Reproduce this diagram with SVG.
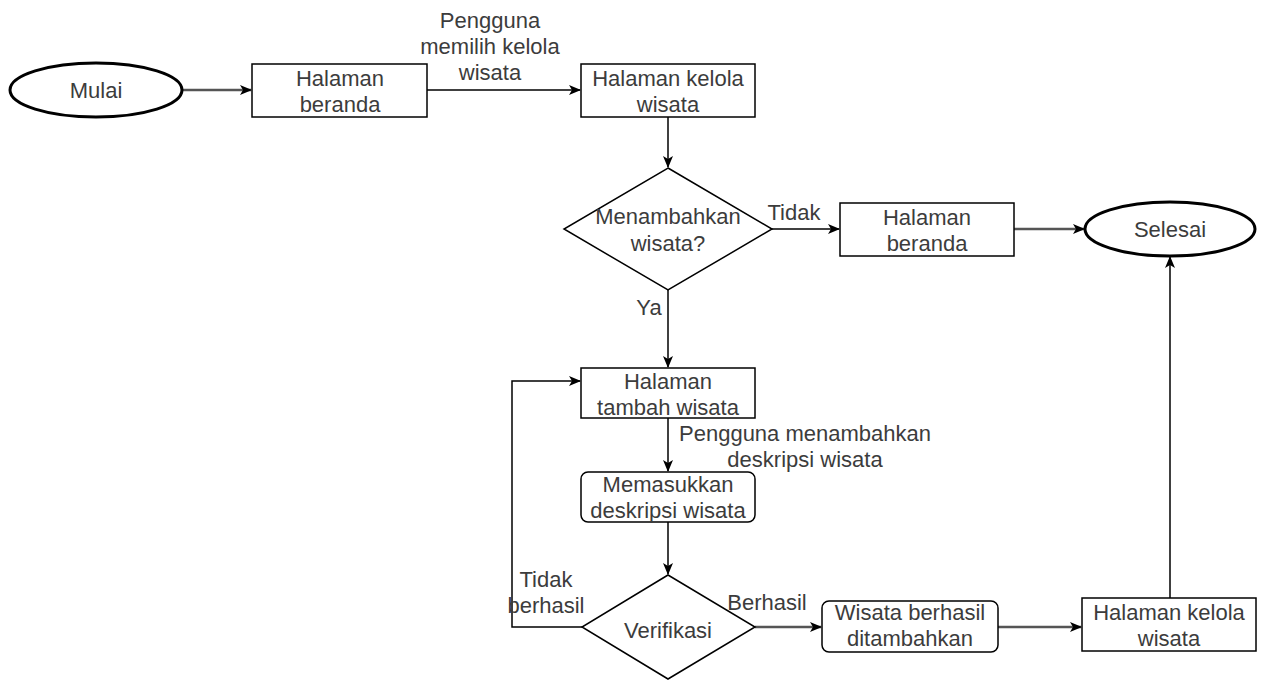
<svg xmlns="http://www.w3.org/2000/svg" width="1262" height="680" viewBox="0 0 1262 680">
  <style>
    .box { fill: #ffffff; stroke: #000000; stroke-width: 1.5; }
    .term { fill: #ffffff; stroke: #000000; stroke-width: 3; }
    .lbl { font-family: "Liberation Sans", Arial, sans-serif; font-size: 22px; fill: #3c3c3c; text-anchor: middle; }
    .edge { fill: none; stroke: #000000; stroke-width: 1.5; }
    .edge2 { fill: none; stroke: #555555; stroke-width: 2.5; }
  </style>
  <defs>
    <marker id="arrow" viewBox="0 0 12 10" refX="11" refY="5" markerWidth="12" markerHeight="10" markerUnits="userSpaceOnUse" orient="auto">
      <path d="M0,0 L12,5 L0,10 L3,5 Z" fill="#000000"/>
    </marker>
  </defs>

  <!-- connectors -->
  <g id="edges">
    <path class="edge2" d="M183,90 L251,90" marker-end="url(#arrow)"/>
    <path class="edge" d="M427,90 L580,90" marker-end="url(#arrow)"/>
    <path class="edge" d="M668,117 L668,167" marker-end="url(#arrow)"/>
    <path class="edge" d="M772,229 L839,229" marker-end="url(#arrow)"/>
    <path class="edge2" d="M1014,229 L1084,229" marker-end="url(#arrow)"/>
    <path class="edge" d="M668,290 L668,367" marker-end="url(#arrow)"/>
    <path class="edge" d="M668,418 L668,471" marker-end="url(#arrow)"/>
    <path class="edge" d="M668,522 L668,574" marker-end="url(#arrow)"/>
    <path class="edge" d="M582,627 L512,627 L512,381 L580,381" marker-end="url(#arrow)"/>
    <path class="edge2" d="M755,627 L821,627" marker-end="url(#arrow)"/>
    <path class="edge2" d="M998,627 L1081,627" marker-end="url(#arrow)"/>
    <path class="edge" d="M1170,598 L1170,257" marker-end="url(#arrow)"/>
    <text class="lbl" x="490" y="28">Pengguna</text>
    <text class="lbl" x="490" y="54">memilih kelola</text>
    <text class="lbl" x="490" y="80">wisata</text>
    <text class="lbl" x="794" y="220">Tidak</text>
    <text class="lbl" x="649" y="315">Ya</text>
    <text class="lbl" x="805" y="441">Pengguna menambahkan</text>
    <text class="lbl" x="805" y="467">deskripsi wisata</text>
    <text class="lbl" x="546" y="587">Tidak</text>
    <text class="lbl" x="546" y="613">berhasil</text>
    <text class="lbl" x="767" y="610">Berhasil</text>
  </g>

  <g id="mulai">
    <ellipse class="term" cx="96" cy="90" rx="86" ry="27"/>
    <text class="lbl" x="96" y="98">Mulai</text>
  </g>

  <g id="halaman-beranda-1">
    <rect class="box" x="252" y="64" width="175" height="53"/>
    <text class="lbl" x="340" y="86">Halaman</text>
    <text class="lbl" x="340" y="112">beranda</text>
  </g>

  <g id="halaman-kelola-1">
    <rect class="box" x="581" y="64" width="174" height="53"/>
    <text class="lbl" x="668" y="86">Halaman kelola</text>
    <text class="lbl" x="668" y="112">wisata</text>
  </g>

  <g id="menambahkan">
    <path class="box" d="M668,168 L772,229 L668,290 L564,229 Z"/>
    <text class="lbl" x="668" y="224">Menambahkan</text>
    <text class="lbl" x="668" y="251">wisata?</text>
  </g>

  <g id="halaman-beranda-2">
    <rect class="box" x="840" y="203" width="174" height="53"/>
    <text class="lbl" x="927" y="225">Halaman</text>
    <text class="lbl" x="927" y="251">beranda</text>
  </g>

  <g id="selesai">
    <ellipse class="term" cx="1170" cy="229" rx="85" ry="27"/>
    <text class="lbl" x="1170" y="237">Selesai</text>
  </g>

  <g id="halaman-tambah">
    <rect class="box" x="581" y="368" width="174" height="50"/>
    <text class="lbl" x="668" y="389">Halaman</text>
    <text class="lbl" x="668" y="415">tambah wisata</text>
  </g>

  <g id="memasukkan">
    <rect class="box" x="581" y="472" width="174" height="50" rx="7"/>
    <text class="lbl" x="668" y="492">Memasukkan</text>
    <text class="lbl" x="668" y="518">deskripsi wisata</text>
  </g>

  <g id="verifikasi">
    <path class="box" d="M668,575 L755,627 L668,679 L582,627 Z"/>
    <text class="lbl" x="668" y="638">Verifikasi</text>
  </g>

  <g id="wisata-berhasil">
    <rect class="box" x="822" y="601" width="176" height="51" rx="7"/>
    <text class="lbl" x="910" y="620">Wisata berhasil</text>
    <text class="lbl" x="910" y="646">ditambahkan</text>
  </g>

  <g id="halaman-kelola-2">
    <rect class="box" x="1082" y="598" width="174" height="53"/>
    <text class="lbl" x="1169" y="620">Halaman kelola</text>
    <text class="lbl" x="1169" y="646">wisata</text>
  </g>
</svg>
